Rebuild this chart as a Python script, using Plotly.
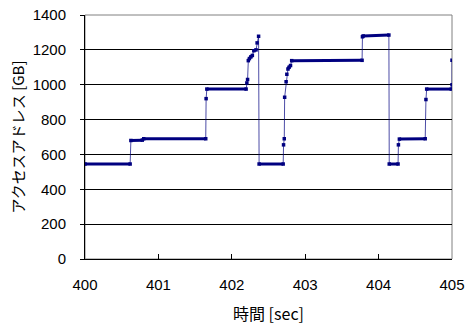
import plotly.graph_objects as go

# time [sec] and access address [GB]
time_sec = [400.00, 400.615, 400.625, 400.78, 400.80, 401.645, 401.65, 401.66,
            402.195, 402.205, 402.215, 402.225, 402.24, 402.26, 402.28, 402.30,
            402.33, 402.345, 402.365, 402.372, 402.70, 402.705, 402.715, 402.72,
            402.74, 402.75, 402.765, 402.78, 402.80, 402.816, 403.775, 403.78,
            403.79, 404.14, 404.145, 404.265, 404.27, 404.283, 404.635, 404.645,
            404.655, 404.99, 405.00, 405.00]
address_gb = [545, 545, 680, 682, 690, 690, 920, 975,
              975, 1010, 1030, 1138, 1150, 1160, 1168, 1195,
              1200, 1240, 1278, 545, 545, 655, 690, 928,
              1017, 1060, 1090, 1100, 1110, 1138, 1140, 1275,
              1280, 1285, 545, 545, 655, 688, 690, 915,
              975, 975, 1000, 1140]

x_ticks = [400, 401, 402, 403, 404, 405]
y_ticks = [0, 200, 400, 600, 800, 1000, 1200, 1400]

NAVY = "#000080"
font_family = "Liberation Sans, Arial, sans-serif"
jp_font = "Noto Sans CJK JP, sans-serif"

# flat segments (dense sampling in the original) drawn thicker
fx, fy = [], []
for i in range(len(time_sec) - 1):
    if abs(address_gb[i + 1] - address_gb[i]) < 20 and time_sec[i + 1] > time_sec[i]:
        fx += [time_sec[i], time_sec[i + 1], None]
        fy += [address_gb[i], address_gb[i + 1], None]

fig = go.Figure()
fig.add_trace(go.Scatter(x=time_sec, y=address_gb, mode="lines",
                         line=dict(color="rgba(0,0,128,0.7)", width=1),
                         hoverinfo="skip", showlegend=False, cliponaxis=False))
fig.add_trace(go.Scatter(x=fx, y=fy, mode="lines",
                         line=dict(color=NAVY, width=3),
                         hoverinfo="skip", showlegend=False))
fig.add_trace(go.Scatter(x=time_sec, y=address_gb, mode="markers",
                         marker=dict(color=NAVY, size=3.5, symbol="square"),
                         showlegend=False))

fig.add_shape(type="rect", xref="paper", yref="paper", x0=0, y0=0, x1=1, y1=1,
              line=dict(color="#808080", width=1), layer="below")

fig.update_layout(
    width=467, height=325,
    margin=dict(l=85, r=15, t=15, b=66, autoexpand=False),
    paper_bgcolor="white", plot_bgcolor="white",
    font=dict(family=font_family, size=15, color="black"),
    xaxis=dict(range=[400, 405], tickvals=x_ticks, ticktext=[str(v) for v in x_ticks],
               automargin=False,
               showgrid=False, zeroline=False, showline=True, linecolor="black",
               linewidth=1, ticks="inside", ticklen=5, tickcolor="black",
               ticklabelstandoff=12, tickfont=dict(size=15),
               title=dict(text="時間 [sec]", font=dict(family=jp_font, size=16), standoff=19)),
    yaxis=dict(range=[0, 1400], tickvals=y_ticks, ticktext=[str(v) for v in y_ticks],
               automargin=False,
               showgrid=True, gridcolor="black", gridwidth=1, zeroline=False,
               showline=True, linecolor="black", linewidth=1,
               ticks="outside", ticklen=4, tickcolor="black", ticklabelstandoff=11,
               tickfont=dict(size=15),
               title=dict(text="アクセスアドレス [GB]", font=dict(family=jp_font, size=15), standoff=4)),
)

fig.write_html("out.html", config={"displayModeBar": False},
               post_script="document.body.style.margin='0';document.body.style.overflow='hidden';")
